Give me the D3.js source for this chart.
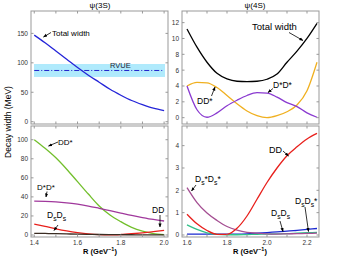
<!DOCTYPE html>
<html>
<head>
<meta charset="utf-8">
<script src="https://cdn.jsdelivr.net/npm/d3@7"></script>
<style>
  body { margin: 0; background: #fff; }
  text { font-family: "Liberation Sans", Arial, sans-serif; }
</style>
</head>
<body>
<script>
// data
const R3 = [1.4, 1.45, 1.5, 1.55, 1.6, 1.65, 1.7, 1.75, 1.8, 1.85, 1.9, 1.95, 2.0];
const R4 = [1.6, 1.65, 1.7, 1.75, 1.8, 1.85, 1.9, 1.95, 2.0, 2.05, 2.1, 2.15, 2.2, 2.25];

const total3S = [147, 134, 120, 106, 92, 79, 67, 55, 45, 36, 29, 23, 19];
const rvue = { mid: 87, lo: 76, hi: 98 };

const total4S = [11.2, 8.9, 7.0, 5.6, 4.9, 4.6, 4.55, 4.6, 4.85, 5.5, 7.0, 8.4, 10.0, 11.9];
const ddStar4S = [4.0, 4.45, 4.4, 3.8, 2.8, 1.75, 0.85, 0.25, 0.0, 0.25, 0.75, 1.6, 3.4, 7.0];
const dStarDStar4S = [4.0, 1.0, 0.05, 0.6, 1.5, 2.2, 2.8, 3.15, 3.1, 2.6, 1.9, 1.4, 0.6, 0.05];

const ddStar3S = [100, 91, 81, 69, 56, 43, 30.5, 21, 14, 8, 4, 1.5, 0.3];
const dStarDStar3S = [35.5, 35.3, 34.8, 33.8, 32.3, 30.4, 28, 25.5, 23, 20.5, 18.3, 16.3, 14.7];
const dd3S = [11.5, 9, 6.5, 4.3, 2.5, 1.1, 0.3, 0.1, 0.5, 1.3, 2.3, 3.5, 4.8];
const dsds3S = [1.8, 1.6, 1.4, 1.15, 0.9, 0.7, 0.5, 0.4, 0.3, 0.25, 0.2, 0.2, 0.2];

const dd4S = [0.93, 0.5, 0.2, 0.03, 0.03, 0.3, 0.85, 1.6, 2.35, 3.0, 3.55, 3.95, 4.3, 4.55];
const dsStarDsStar4S = [2.12, 1.45, 0.98, 0.65, 0.38, 0.22, 0.12, 0.08, 0.05, 0.04, 0.05, 0.06, 0.07, 0.08];
const dsDsStar4S = [0.45, 0.25, 0.1, 0.03, 0.01, 0.01, 0.02, 0.03, 0.04, 0.05, 0.06, 0.08, 0.1, 0.12];
const dsds4S = [0.04, 0.04, 0.04, 0.04, 0.04, 0.04, 0.05, 0.08, 0.11, 0.14, 0.17, 0.21, 0.25, 0.29];

const xTicks3 = [1.4, 1.6, 1.8, 2.0];
const xTicks4 = [1.6, 1.8, 2.0, 2.2];

const svg = d3.select('body').append('svg')
  .attr('width', 344)
  .attr('height', 258);

// panel boxes in pixels
const panels = {
  tl: { x0: 31, x1: 168, y0: 11, y1: 124, xd: [1.385, 2.018], yd: [-3.9, 188], yt: [0, 50, 100, 150], xm: 0.1 },
  tr: { x0: 182, x1: 319, y0: 11, y1: 124, xd: [1.575, 2.26], yd: [-0.8, 13.47], yt: [0, 2, 4, 6, 8, 10, 12], xm: 0.1 },
  bl: { x0: 31, x1: 168, y0: 126, y1: 237, xd: [1.385, 2.018], yd: [-2.1, 114.4], yt: [0, 20, 40, 60, 80, 100], xm: 0.1 },
  br: { x0: 182, x1: 319, y0: 126, y1: 237, xd: [1.575, 2.26], yd: [-0.09, 4.88], yt: [0, 1, 2, 3, 4], xm: 0.1 },
};

Object.values(panels).forEach(p => {
  p.x = d3.scaleLinear().domain(p.xd).range([p.x0, p.x1]);
  p.y = d3.scaleLinear().domain(p.yd).range([p.y1, p.y0]);
});

svg.append('defs').append('marker')
  .attr('id', 'arrow')
  .attr('viewBox', '0 0 10 10')
  .attr('refX', 9)
  .attr('refY', 5)
  .attr('markerWidth', 5)
  .attr('markerHeight', 5)
  .attr('orient', 'auto')
  .append('path')
  .attr('d', 'M0,1 L10,5 L0,9 Z')
  .attr('fill', '#000');

function frame(p, xLabels) {
  const g = svg.append('g');
  g.append('rect')
    .attr('x', p.x0).attr('y', p.y0)
    .attr('width', p.x1 - p.x0).attr('height', p.y1 - p.y0)
    .attr('fill', 'none').attr('stroke', '#999').attr('stroke-width', 1);

  // minor x ticks every 0.1, inside on top and bottom
  const xt = d3.range(Math.ceil(p.xd[0] * 10) / 10, p.xd[1], p.xm);
  xt.forEach(v => {
    const px = p.x(v);
    g.append('line').attr('x1', px).attr('x2', px).attr('y1', p.y1).attr('y2', p.y1 - 2.5).attr('stroke', '#999');
    g.append('line').attr('x1', px).attr('x2', px).attr('y1', p.y0).attr('y2', p.y0 + 2.5).attr('stroke', '#999');
  });
  p.yt.forEach(v => {
    const py = p.y(v);
    g.append('line').attr('x1', p.x0).attr('x2', p.x0 + 2.5).attr('y1', py).attr('y2', py).attr('stroke', '#999');
    g.append('line').attr('x1', p.x1).attr('x2', p.x1 - 2.5).attr('y1', py).attr('y2', py).attr('stroke', '#999');
    g.append('text')
      .attr('x', p.x0 - 3).attr('y', py + 2.4)
      .attr('text-anchor', 'end')
      .attr('font-size', 6.5)
      .attr('fill', '#333')
      .text(v);
  });
  if (xLabels) {
    xLabels.forEach(v => {
      g.append('text')
        .attr('x', p.x(v)).attr('y', p.y1 + 8)
        .attr('text-anchor', 'middle')
        .attr('font-size', 6.5)
        .attr('fill', '#333')
        .text(d3.format('.1f')(v));
    });
  }
}

function curve(p, xs, ys, color, width) {
  const line = d3.line()
    .x((d, i) => p.x(xs[i]))
    .y(d => p.y(d))
    .curve(d3.curveMonotoneX);
  svg.append('path')
    .datum(ys)
    .attr('fill', 'none')
    .attr('stroke', color)
    .attr('stroke-width', width || 1.3)
    .attr('d', line);
}

function arrow(x1, y1, x2, y2) {
  svg.append('line')
    .attr('x1', x1).attr('y1', y1).attr('x2', x2).attr('y2', y2)
    .attr('stroke', '#000').attr('stroke-width', 0.8)
    .attr('marker-end', 'url(#arrow)');
}

function label(x, y, parts, size) {
  // parts: [text, 'sub'|'up'|null]
  const t = svg.append('text')
    .attr('x', x).attr('y', y)
    .attr('font-size', size || 8);
  parts.forEach(([s, kind]) => {
    const ts = t.append('tspan').text(s);
    if (kind === 'sub') ts.attr('dy', 3).attr('font-size', (size || 8) * 0.8);
    if (kind === 'up') ts.attr('dy', -3);
  });
  return t;
}

// ---- top left: psi(3S)
const tl = panels.tl;
svg.append('rect')
  .attr('x', tl.x0 + 3).attr('width', tl.x1 - tl.x0 - 6)
  .attr('y', tl.y(rvue.hi)).attr('height', tl.y(rvue.lo) - tl.y(rvue.hi))
  .attr('fill', '#b0eafc');
svg.append('line')
  .attr('x1', tl.x(1.4)).attr('x2', tl.x(2.0))
  .attr('y1', tl.y(rvue.mid)).attr('y2', tl.y(rvue.mid))
  .attr('stroke', '#2222cc').attr('stroke-width', 1)
  .attr('stroke-dasharray', '5,2,1,2');
curve(tl, R3, total3S, '#2424d8');
frame(tl);
label(52, 36, [['Total width']], 8);
arrow(51, 32.5, 43.5, 37);
svg.append('text').attr('x', 110).attr('y', 68.3).attr('font-size', 7.5).attr('fill', '#223').text('RVUE');

// ---- top right: psi(4S)
const tr = panels.tr;
curve(tr, R4, total4S, '#000');
curve(tr, R4, ddStar4S, '#f0b020');
curve(tr, R4, dStarDStar4S, '#8a3ad0');
frame(tr);
label(252, 30, [['Total width']], 9.5);
arrow(289, 32.5, 303, 40.5);
label(197, 104, [['DD*']], 8.5);
arrow(211.5, 96, 215, 87);
label(273, 88, [['D*D*']], 8.5);
arrow(273, 88.5, 268, 92.5);

// ---- bottom left
const bl = panels.bl;
curve(bl, R3, ddStar3S, '#72bf2c');
curve(bl, R3, dStarDStar3S, '#a0389c');
curve(bl, R3, dd3S, '#e8201c');
curve(bl, R3, dsds3S, '#3a2c22');
frame(bl, xTicks3);
label(58, 144.5, [['DD*']], 8);
arrow(58, 142, 48.5, 146);
label(37, 190, [['D*D*']], 8);
arrow(47, 191.5, 46, 197);
label(47, 218, [['D'], ['s', 'sub'], ['D', 'up'], ['s', 'sub']], 8.5);
arrow(58, 225, 54, 230.5);
label(152, 213, [['DD']], 8.5);
arrow(160, 215, 160, 227);

// ---- bottom right
const br = panels.br;
curve(br, R4, dsds4S, '#1a28d0');
curve(br, R4, dsDsStar4S, '#30c088');
curve(br, R4, dsStarDsStar4S, '#a44e92');
curve(br, R4, dd4S, '#e8201c');
frame(br, xTicks4);
label(269, 152.5, [['DD']], 9);
arrow(283, 151, 288.5, 156);
label(195, 182, [['D'], ['s', 'sub'], ['*D', 'up'], ['s', 'sub'], ['*', 'up']], 8.5);
arrow(196, 185, 191.5, 191);
label(271, 216, [['D'], ['s', 'sub'], ['D', 'up'], ['s', 'sub']], 8.5);
arrow(280, 221, 283, 231.5);
label(295, 204, [['D'], ['s', 'sub'], ['D', 'up'], ['s', 'sub'], ['*', 'up']], 8.5);
arrow(305, 207, 308.5, 231.5);

// titles and axis labels
svg.append('text').attr('x', 100).attr('y', 8).attr('text-anchor', 'middle').attr('font-size', 8).text('ψ(3S)');
svg.append('text').attr('x', 255).attr('y', 8).attr('text-anchor', 'middle').attr('font-size', 8).text('ψ(4S)');

svg.append('text')
  .attr('transform', 'translate(11,122) rotate(-90)')
  .attr('text-anchor', 'middle')
  .attr('font-size', 8.5)
  .text('Decay width (MeV)');

[100, 250].forEach(cx => {
  const t = svg.append('text')
    .attr('x', cx).attr('y', 254)
    .attr('text-anchor', 'middle')
    .attr('font-size', 7.5)
    .attr('font-weight', 'bold');
  t.append('tspan').text('R (GeV');
  t.append('tspan').attr('dy', -3).attr('font-size', 5.5).text('−1');
  t.append('tspan').attr('dy', 3).text(')');
});
</script>
</body>
</html>
